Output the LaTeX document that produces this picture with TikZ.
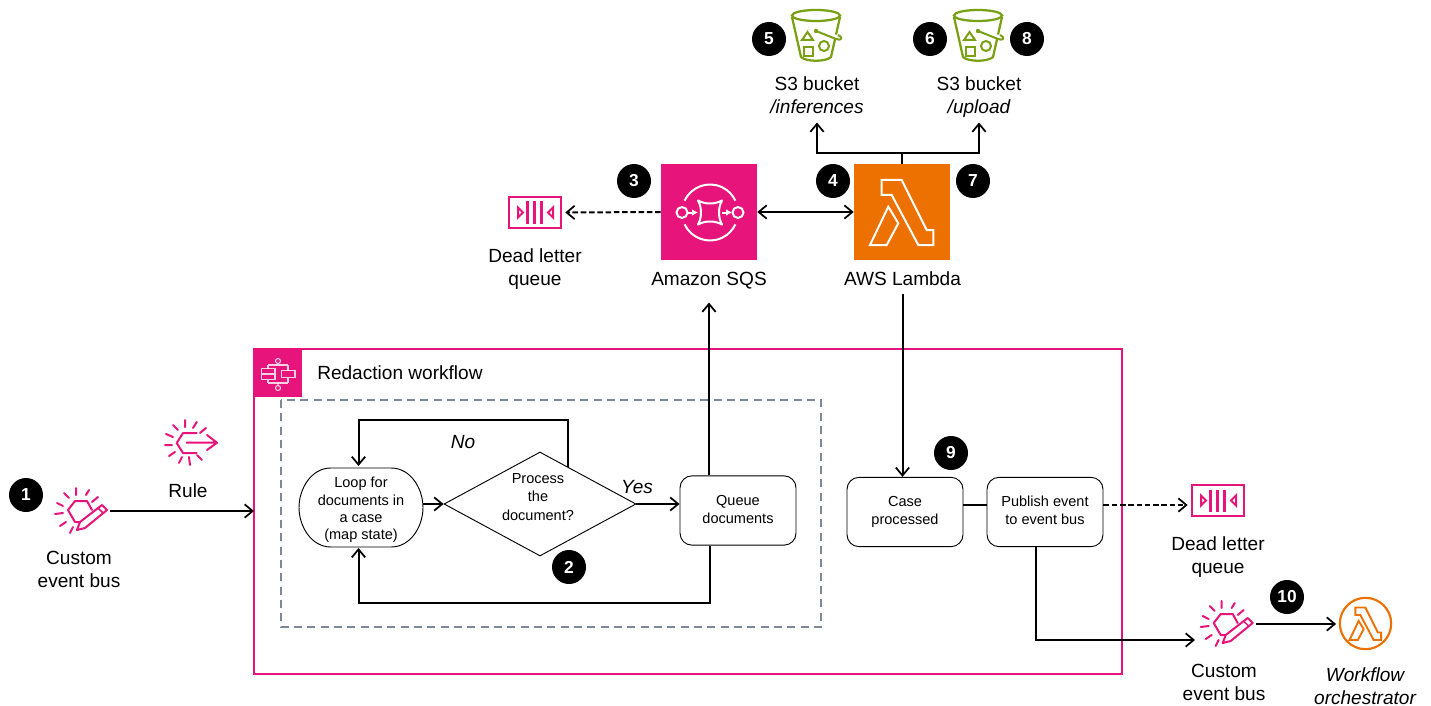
\documentclass[tikz,border=0pt]{standalone}
\usepackage{fontspec}
\setmainfont{Liberation Sans}
\usetikzlibrary{arrows.meta,shapes.geometric}
\definecolor{awspink}{HTML}{E7157B}
\definecolor{awsorange}{HTML}{ED7100}
\definecolor{awsgreen}{HTML}{7AA116}
\definecolor{dashgrey}{HTML}{7D8998}
\tikzset{
  x=0.75pt,y=-0.75pt,
  barb/.tip={Straight Barb[length=6pt,width=10pt,line width=1.3pt]},
  conn/.style={draw=black,line width=1.5pt,-barb},
  plain/.style={draw=black,line width=1.5pt},
  conndash/.style={conn,dash pattern=on 4.2pt off 2pt},
  both/.style={draw=black,line width=1.5pt,barb-barb},
  badge/.style={circle,fill=black,text=white,minimum size=25.5pt,inner sep=0pt,font=\fontsize{13}{15}\selectfont\bfseries},
  lab/.style={align=center,font=\fontsize{14.3}{17.3}\selectfont,inner sep=0pt},
  small/.style={align=center,font=\fontsize{10.9}{13}\selectfont,inner sep=0pt},
  flow/.style={draw=black,line width=0.7pt,rounded corners=9pt,minimum width=87pt,minimum height=52pt,align=center,font=\fontsize{10.9}{13.6}\selectfont,inner sep=0pt},
  ic/.style={line width=1.5pt,line cap=round,line join=round},
  holder/.style={inner sep=0pt,minimum width=48pt,minimum height=46pt},
  holderq/.style={inner sep=0pt,minimum width=42pt,minimum height=24pt},
}
\newcommand{\lambdaglyph}[2]{%
  \draw[#1,line width=#2,line join=miter]
    (-20.3,-32) -- (-0.3,-32) -- (24.7,18) -- (31.3,18) -- (31.3,33) -- (16.3,33) -- (-10.3,-17) -- (-20.3,-17) -- cycle;
  \draw[#1,line width=#2,line join=miter]
    (-13.7,-5.3) -- (-3.7,11.3) -- (-15.3,33) -- (-32,33) -- cycle;
}
\newcommand{\busicon}[1]{%
  \begin{scope}[shift={#1}]
    \draw[ic,awspink] (-2,-23) -- (-2,-16) (11,-21) -- (8,-16) (20,-14) -- (14,-9) (-14,-18) -- (-9,-13) (-21,-8) -- (-15,-5) (-23,3) -- (-15,2) (-18,15) -- (-12,11) (-8,22) -- (-5,16);
    \draw[ic,awspink] (14,-1) -- (9,-10) -- (-3,-10) -- (-10,-1) -- (-3,11) -- (2,11);
    \draw[ic,awspink,fill=white] (2,11) -- (24,-6) -- (29,-1) -- (7,17) -- (-1,19) -- cycle;
    \draw[ic,awspink,line width=1.1pt] (20,-3) -- (25,2);
  \end{scope}%
}
\newcommand{\dlqicon}[1]{%
  \begin{scope}[shift={#1}]
    \draw[awspink,line width=2pt] (-26,-15.5) rectangle (26,15.5);
    \foreach \x in {-7.5,-0.7,6.5} {\draw[awspink,line width=1.8pt] (\x,-11) -- (\x,11);}
    \draw[awspink,line width=1.5pt] (-17,-5) -- (-12,0) -- (-17,5) -- cycle;
    \draw[awspink,line width=1.5pt] (18,-5) -- (13,0) -- (18,5) -- cycle;
  \end{scope}%
}
\newcommand{\bucketicon}[1]{%
  \begin{scope}[shift={#1}]
    \draw[awsgreen,line width=1.7pt] (0,-20.5) ellipse (24 and 5.5);
    \draw[awsgreen,line width=1.7pt,line join=round] (-24,-19) -- (-15,21) .. controls (-10,26) and (10,26) .. (15,21) -- (24,-19);
    \draw[awsgreen,line width=1.5pt,line join=miter] (-14,4) -- (-8.5,-4) -- (-3,4) -- cycle;
    \draw[awsgreen,line width=1.5pt] (-12,11) rectangle (-3,20);
    \draw[awsgreen,line width=1.5pt] (8,10) circle (5);
    \fill[awsgreen] (0,-5) circle (2.2);
    \draw[awsgreen,line width=1.5pt,line join=round,fill=white] (0,-5) -- (20,3) .. controls (25,5) and (28,2) .. (22,-1);
  \end{scope}%
}
\begin{document}
\begin{tikzpicture}
\useasboundingbox (0,0) rectangle (1431,706);
\fill[white] (0,0) rectangle (1431,706);

% workflow frames
\draw[awspink,line width=1.5pt] (254,349) rectangle (1122,674);
\draw[dashgrey,line width=1.2pt,dash pattern=on 6pt off 4pt] (281,400) rectangle (821,627);
\node[fill=awspink,minimum size=36pt,inner sep=0pt,anchor=north west] (wficon) at (254,349) {};
\node[lab,anchor=west] (wftitle) at (317,373) {Redaction workflow};
\begin{scope}[shift={(278,374)},white,line width=0.8pt,opacity=.8]
  \draw (0,-13) circle (2.5) (0,14) circle (2.5) (0,-10.5) -- (0,-9) (0,9) -- (0,11.5);
  \draw (-10,-9) -- (10,-9) (-10,9) -- (10,9) (-10,-9) -- (-10,-5.5) (-10,5.5) -- (-10,9) (10,-9) -- (10,-3.5) (10,3.5) -- (10,9);
  \draw (-16.5,-5.5) rectangle (-3,5.5) (-16.5,0) -- (-3,0);
  \draw (3.5,-3.5) rectangle (17,3.5);
\end{scope}

% SQS
\node[fill=awspink,minimum size=72pt,inner sep=0pt] (sqs) at (709,212) {};
\node[lab] (sqslab) at (709,280.5) {Amazon SQS};
\begin{scope}[shift={(710,212.5)},white,line width=1.5pt]
  \draw (155:28) arc (155:25:28);
  \draw (205:28) arc (205:335:28);
  \draw[fill=awspink] (-28,0) circle (5.5);
  \draw[fill=awspink] (28,0) circle (5.5);
  \draw[line join=round] (-12,-12) .. controls (-5,-8) and (5,-8) .. (12,-12) .. controls (8,-5) and (8,5) .. (12,12) .. controls (5,8) and (-5,8) .. (-12,12) .. controls (-8,5) and (-8,-5) .. (-12,-12) -- cycle;
  \draw[-{Latex[length=4.5pt,width=5pt]}] (-22,0) -- (-12,0);
  \draw[-{Latex[length=4.5pt,width=5pt]}] (12,0) -- (22,0);
\end{scope}

% Lambda
\node[fill=awsorange,minimum size=72pt,inner sep=0pt] (lam) at (902,212) {};
\node[lab] (lamlab) at (902.5,279) {AWS Lambda};
\begin{scope}[shift={(902,212)}]
  \lambdaglyph{white}{1.5pt}
\end{scope}

% DLQ 1
\node[holderq,minimum width=45pt] (dlqa) at (535,212.5) {};
\dlqicon{(535,212.5)}
\node[lab] (dlqalab) at (535,269) {Dead letter\\queue};

% buckets
\bucketicon{(816,36)}
\bucketicon{(978,36)}
\node[lab] (s3a) at (817,99) {S3 bucket\\\itshape\strut /inferences};
\node[lab] (s3b) at (979,99) {S3 bucket\\\itshape\strut /upload};

% event buses
\node[holder] (busA) at (78,511) {};
\busicon{(78,511)}
\node[lab] (buslabA) at (79,569) {Custom\\event bus};
\node[holder] (busB) at (1223.7,624) {};
\busicon{(1223.7,624)}
\node[lab] (buslabB) at (1224,682) {Custom\\event bus};

% rule icon
\draw[ic,awspink] (185,420) -- (185,427) (196.7,422) -- (193,428) (206,428) -- (200,433) (173,425) -- (178,430) (166,434) -- (173,437) (165,445) -- (172,445) (169,456) -- (175,452) (179,463) -- (182,457) (190,465) -- (189,457) (202,460) -- (197,455);
\draw[ic,awspink] (196.7,433) -- (183,433) -- (176.7,443) -- (183,453) -- (196.7,453);
\draw[ic,awspink] (186.7,442.7) -- (216,442.7) (207,435) -- (217,442.7) -- (207,450);
\node[lab] (rulelab) at (188,491) {Rule};

% DLQ 2
\node[holderq,minimum width=45pt] (dlqb) at (1218,500.5) {};
\dlqicon{(1218,500.5)}
\node[lab] (dlqblab) at (1218,557) {Dead letter\\queue};

% orchestrator
\node[draw=awsorange,circle,line width=1.6pt,minimum size=38.5pt,inner sep=0pt] (orch) at (1365.5,623.5) {};
\begin{scope}[shift={(1365.5,623.5)},scale=.5]
  \lambdaglyph{awsorange}{1.4pt}
\end{scope}
\node[lab,font=\fontsize{14.3}{17.3}\selectfont\itshape] (orchlab) at (1365,686) {Workflow\\orchestrator};

% flowchart
\node[inner sep=0pt,minimum width=93pt,minimum height=59pt] (loop) at (361,507.5) {};
\draw[black,line width=0.7pt] (331,468) -- (391,468) .. controls (411,468) and (423,489) .. (423,507.5) .. controls (423,526) and (411,547) .. (391,547) -- (331,547) .. controls (311,547) and (299,526) .. (299,507.5) .. controls (299,489) and (311,468) .. (331,468) -- cycle;
\node[small] (looplab) at (361,510) {Loop for\\documents in\\a case\\(map state)};
\node[diamond,draw=black,line width=0.7pt,minimum width=144pt,minimum height=78pt,aspect=1.8,inner sep=0pt] (dec) at (540,504) {};
\node[small,font=\fontsize{10.9}{13.6}\selectfont] (declab) at (538,497) {Process\\the\\document?};
\node[flow] (queue) at (738,510.5) {\raisebox{2.3pt}{\begin{tabular}{@{}c@{}}Queue\\documents\end{tabular}}};
\node[flow] (case) at (905,512) {Case\\processed};
\node[flow] (pub) at (1045,512) {\raisebox{1.5pt}{\begin{tabular}{@{}c@{}}Publish event\\to event bus\end{tabular}}};

\coordinate (yesin) at (queue.west |- dec.east);
\coordinate (loopout) at (loop.east |- dec.west);
\coordinate (nofrom) at (568,467);
\coordinate (looptop) at (358.5,466);
\coordinate (loopbot) at (358.5,548);
\draw[conn] (loopout) -- (dec.west);
\draw[conn] (dec.east) -- (yesin);
\draw[conn] (nofrom) -- ++(0,-47) -| (looptop);
\draw[conn] (queue.south -| sqs.east) ++(-47,0) -- ++(0,57) -| (loopbot);
\draw[conn,shorten >=10pt] (sqs |- queue.north) -- (sqslab.south);
\node[font=\fontsize{14.3}{16}\selectfont\itshape,inner sep=0pt] (no) at (463,442) {No};
\node[font=\fontsize{14.3}{16}\selectfont\itshape,inner sep=0pt] (yes) at (637,487) {Yes};

% connectors
\coordinate (wfin) at (254,511);
\draw[conn] (busA.east) -- (wfin);
\draw[conndash] (sqs.west) -- (dlqa.east);
\draw[both] (sqs.east) -- (lam.west);
\coordinate (jct) at (902,153);
\draw[plain] (lam.north) -- (jct);
\draw[conn,shorten >=1pt] (jct) -| (s3a.south);
\draw[conn,shorten >=1pt] (jct) -| (s3b.south);
\draw[conn,shorten <=6pt] (lamlab.south) -- (lamlab.south |- case.north);
\coordinate (caseout) at ([yshift=5.25pt]case.east);
\coordinate (pubin) at ([yshift=5.25pt]pub.west);
\coordinate (pubout) at ([yshift=5.25pt]pub.east);
\coordinate (pubdown) at (1036,547);
\coordinate (busBin) at (1195,640);
\draw[plain] (caseout) -- (pubin);
\draw[conndash] (pubout) -- (pubout -| dlqb.west);
\draw[conn] (pubdown) |- (busBin);
\draw[conn,shorten >=2pt] (busB.east) -- (orch.west |- busB.east);

% badges
\node[badge] (b1) at (26,495) {1};
\node[badge] (b2) at (569,567) {2};
\node[badge] (b3) at (634,181) {3};
\node[badge] (b4) at (833,181) {4};
\node[badge] (b5) at (769,39) {5};
\node[badge] (b6) at (930,39) {6};
\node[badge] (b7) at (973,181) {7};
\node[badge] (b8) at (1027,39) {8};
\node[badge] (b9) at (951,453) {9};
\node[badge] (b10) at (1287,597) {10};
\end{tikzpicture}
\end{document}
